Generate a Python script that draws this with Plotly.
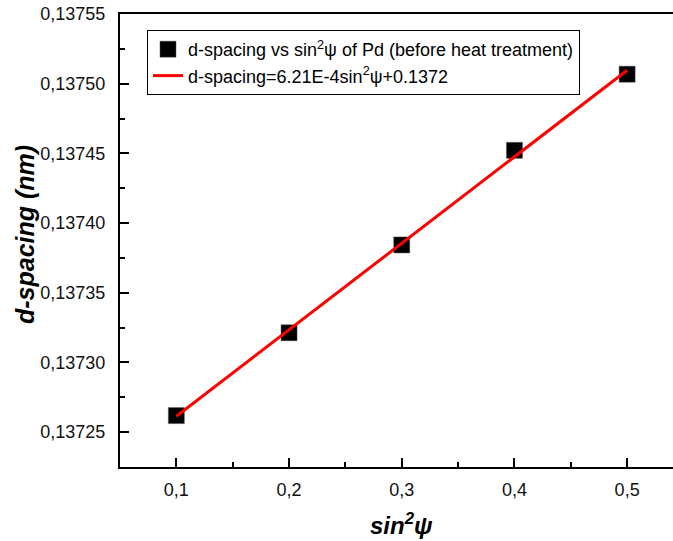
import plotly.graph_objects as go

# Data
sin2psi = [0.1, 0.2, 0.3, 0.4, 0.5]
d_spacing = [0.1372619, 0.1373213, 0.1373843, 0.1374522, 0.1375068]
fit_x = [0.1, 0.5]
fit_y = [0.1372614, 0.1375096]

x_range = [0.05, 0.5407]
y_range = [0.137225, 0.13755]

W, H = 673, 541
ML, MR, MT, MB = 120, 0, 14, 74
pw = W - ML - MR
ph = H - MT - MB

FONT = "Liberation Sans, Arial, sans-serif"

fig = go.Figure()
fig.add_trace(go.Scatter(
    x=sin2psi, y=d_spacing, mode="markers",
    marker=dict(symbol="square", size=16, color="black",
                line=dict(color="#555555", width=0.5)),
    name="d-spacing vs sin<sup>2</sup>ψ of Pd (before heat treatment)",
))
fig.add_trace(go.Scatter(
    x=fit_x, y=fit_y, mode="lines",
    line=dict(color="#ff0000", width=3),
    name="d-spacing=6.21E-4sin<sup>2</sup>ψ+0.1372",
))

axis_common = dict(
    showgrid=False, zeroline=False, showline=True, linecolor="black",
    linewidth=2, ticks="inside", ticklen=9, tickwidth=2, tickcolor="black",
    tickfont=dict(family=FONT, size=18, color="#111111"),
)

fig.update_layout(
    width=W, height=H,
    margin=dict(l=ML, r=MR, t=MT, b=MB),
    plot_bgcolor="white", paper_bgcolor="white",
    separators=", ",
    showlegend=True,
    legend=dict(
        x=(147 - ML) / pw, y=(H - MB - 30) / ph,
        xanchor="left", yanchor="top",
        bordercolor="black", borderwidth=1, bgcolor="white",
        font=dict(family=FONT, size=18, color="black"),
        tracegroupgap=0,
    ),
    xaxis=dict(
        range=x_range, tick0=0, dtick=0.1, tickformat=".1f", mirror=True,
        ticklabelstandoff=5,
        minor=dict(ticks="inside", ticklen=5, tickwidth=2, tickcolor="black",
                   tick0=0.05, dtick=0.1, showgrid=False),
        **axis_common,
    ),
    yaxis=dict(
        range=y_range, tick0=0.13725, dtick=0.00005, tickformat=".5f",
        ticklabelstandoff=9,
        minor=dict(ticks="inside", ticklen=5, tickwidth=2, tickcolor="black",
                   tick0=0.137225, dtick=0.00005, showgrid=False),
        **axis_common,
    ),
)

fig.add_annotation(
    text="<b><i>d-spacing (nm)</i></b>", textangle=-90,
    xref="paper", yref="paper",
    x=(25 - ML) / pw, y=(H - MB - 235) / ph,
    xanchor="center", yanchor="middle", showarrow=False,
    font=dict(family=FONT, size=25, color="black"),
)
fig.add_annotation(
    text="<b><i>sin<sup>2</sup>ψ</i></b>",
    xref="x", yref="paper",
    x=0.3, y=-(524 - (H - MB)) / ph,
    xanchor="center", yanchor="middle", showarrow=False,
    font=dict(family=FONT, size=24, color="black"),
)

fig.write_html("out.html")
